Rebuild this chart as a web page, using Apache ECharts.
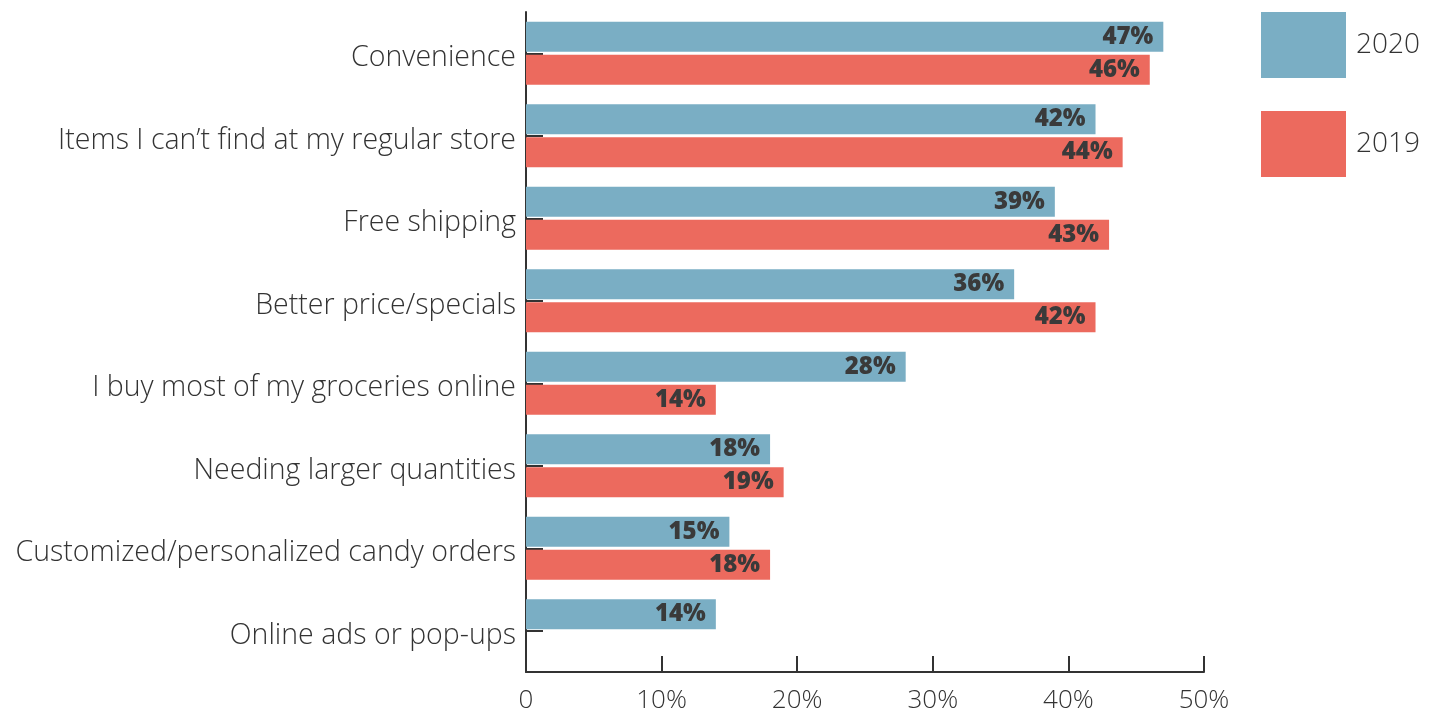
<!DOCTYPE html>
<html>
<head>
<meta charset="utf-8">
<script src="https://cdn.jsdelivr.net/npm/echarts@6/dist/echarts.min.js"></script>
<style>
  html, body { margin: 0; padding: 0; background: #fff; }
  #chart { width: 1439px; height: 709px; }
</style>
</head>
<body>
<div id="chart"></div>
<script>
// Reasons for shopping online, share of respondents
const categories = [
  'Convenience',
  'Items I can’t find at my regular store',
  'Free shipping',
  'Better price/specials',
  'I buy most of my groceries online',
  'Needing larger quantities',
  'Customized/personalized candy orders',
  'Online ads or pop-ups'
];
const values2020 = [47, 42, 39, 36, 28, 18, 15, 14];
const values2019 = [46, 44, 43, 42, 14, 19, 18, null];
const xTicks = [0, 10, 20, 30, 40, 50];

const FONT = 'Open Sans';
const INK = '#333333';
const BLUE = '#7aaec4';
const RED = '#ec6a5e';

const valueLabel = {
  show: true,
  position: 'insideRight',
  distance: 10,
  formatter: p => p.value + '%',
  fontFamily: FONT,
  fontWeight: 800,
  fontSize: 24,
  color: '#3a3a3a'
};

const chart = echarts.init(document.getElementById('chart'), null, { renderer: 'canvas' });
chart.setOption({
  animation: false,
  backgroundColor: '#ffffff',
  grid: { left: 526, right: 235, top: 12, bottom: 37, containLabel: false, outerBoundsMode: 'none' },
  legend: {
    orient: 'vertical',
    left: 1261,
    top: 12,
    padding: 0,
    itemWidth: 85,
    itemHeight: 66,
    itemGap: 33,
    icon: 'rect',
    textStyle: { fontFamily: FONT, fontWeight: 300, fontSize: 28, color: INK, padding: [4, 0, 0, 5] },
    data: ['2020', '2019']
  },
  xAxis: {
    type: 'value',
    min: xTicks[0],
    max: xTicks[xTicks.length - 1],
    interval: 10,
    splitLine: { show: false },
    axisLine: { show: true, lineStyle: { color: INK, width: 2 } },
    axisTick: { show: true, inside: true, length: 16, lineStyle: { color: INK, width: 2 } },
    axisLabel: {
      margin: 16,
      fontFamily: FONT,
      fontWeight: 300,
      fontSize: 26,
      color: INK,
      formatter: v => (v === 0 ? '0' : v + '%')
    }
  },
  yAxis: {
    type: 'category',
    inverse: true,
    data: categories,
    axisLine: { show: true, lineStyle: { color: INK, width: 2 } },
    axisTick: { show: true, inside: true, alignWithLabel: true, length: 17, lineStyle: { color: INK, width: 2 } },
    axisLabel: {
      margin: 10,
      fontFamily: FONT,
      fontWeight: 300,
      fontSize: 28.5,
      color: INK,
      formatter: v => '{t|' + v + '}',
      rich: { t: { fontFamily: FONT, fontWeight: 300, fontSize: 28.5, color: INK, padding: [10, 0, 0, 0] } }
    }
  },
  series: [
    {
      name: '2020',
      type: 'bar',
      data: values2020,
      barWidth: 30,
      barGap: '10%',
      itemStyle: { color: BLUE },
      label: valueLabel
    },
    {
      name: '2019',
      type: 'bar',
      data: values2019,
      barWidth: 30,
      barGap: '10%',
      itemStyle: { color: RED },
      label: valueLabel
    }
  ]
});
</script>
</body>
</html>
